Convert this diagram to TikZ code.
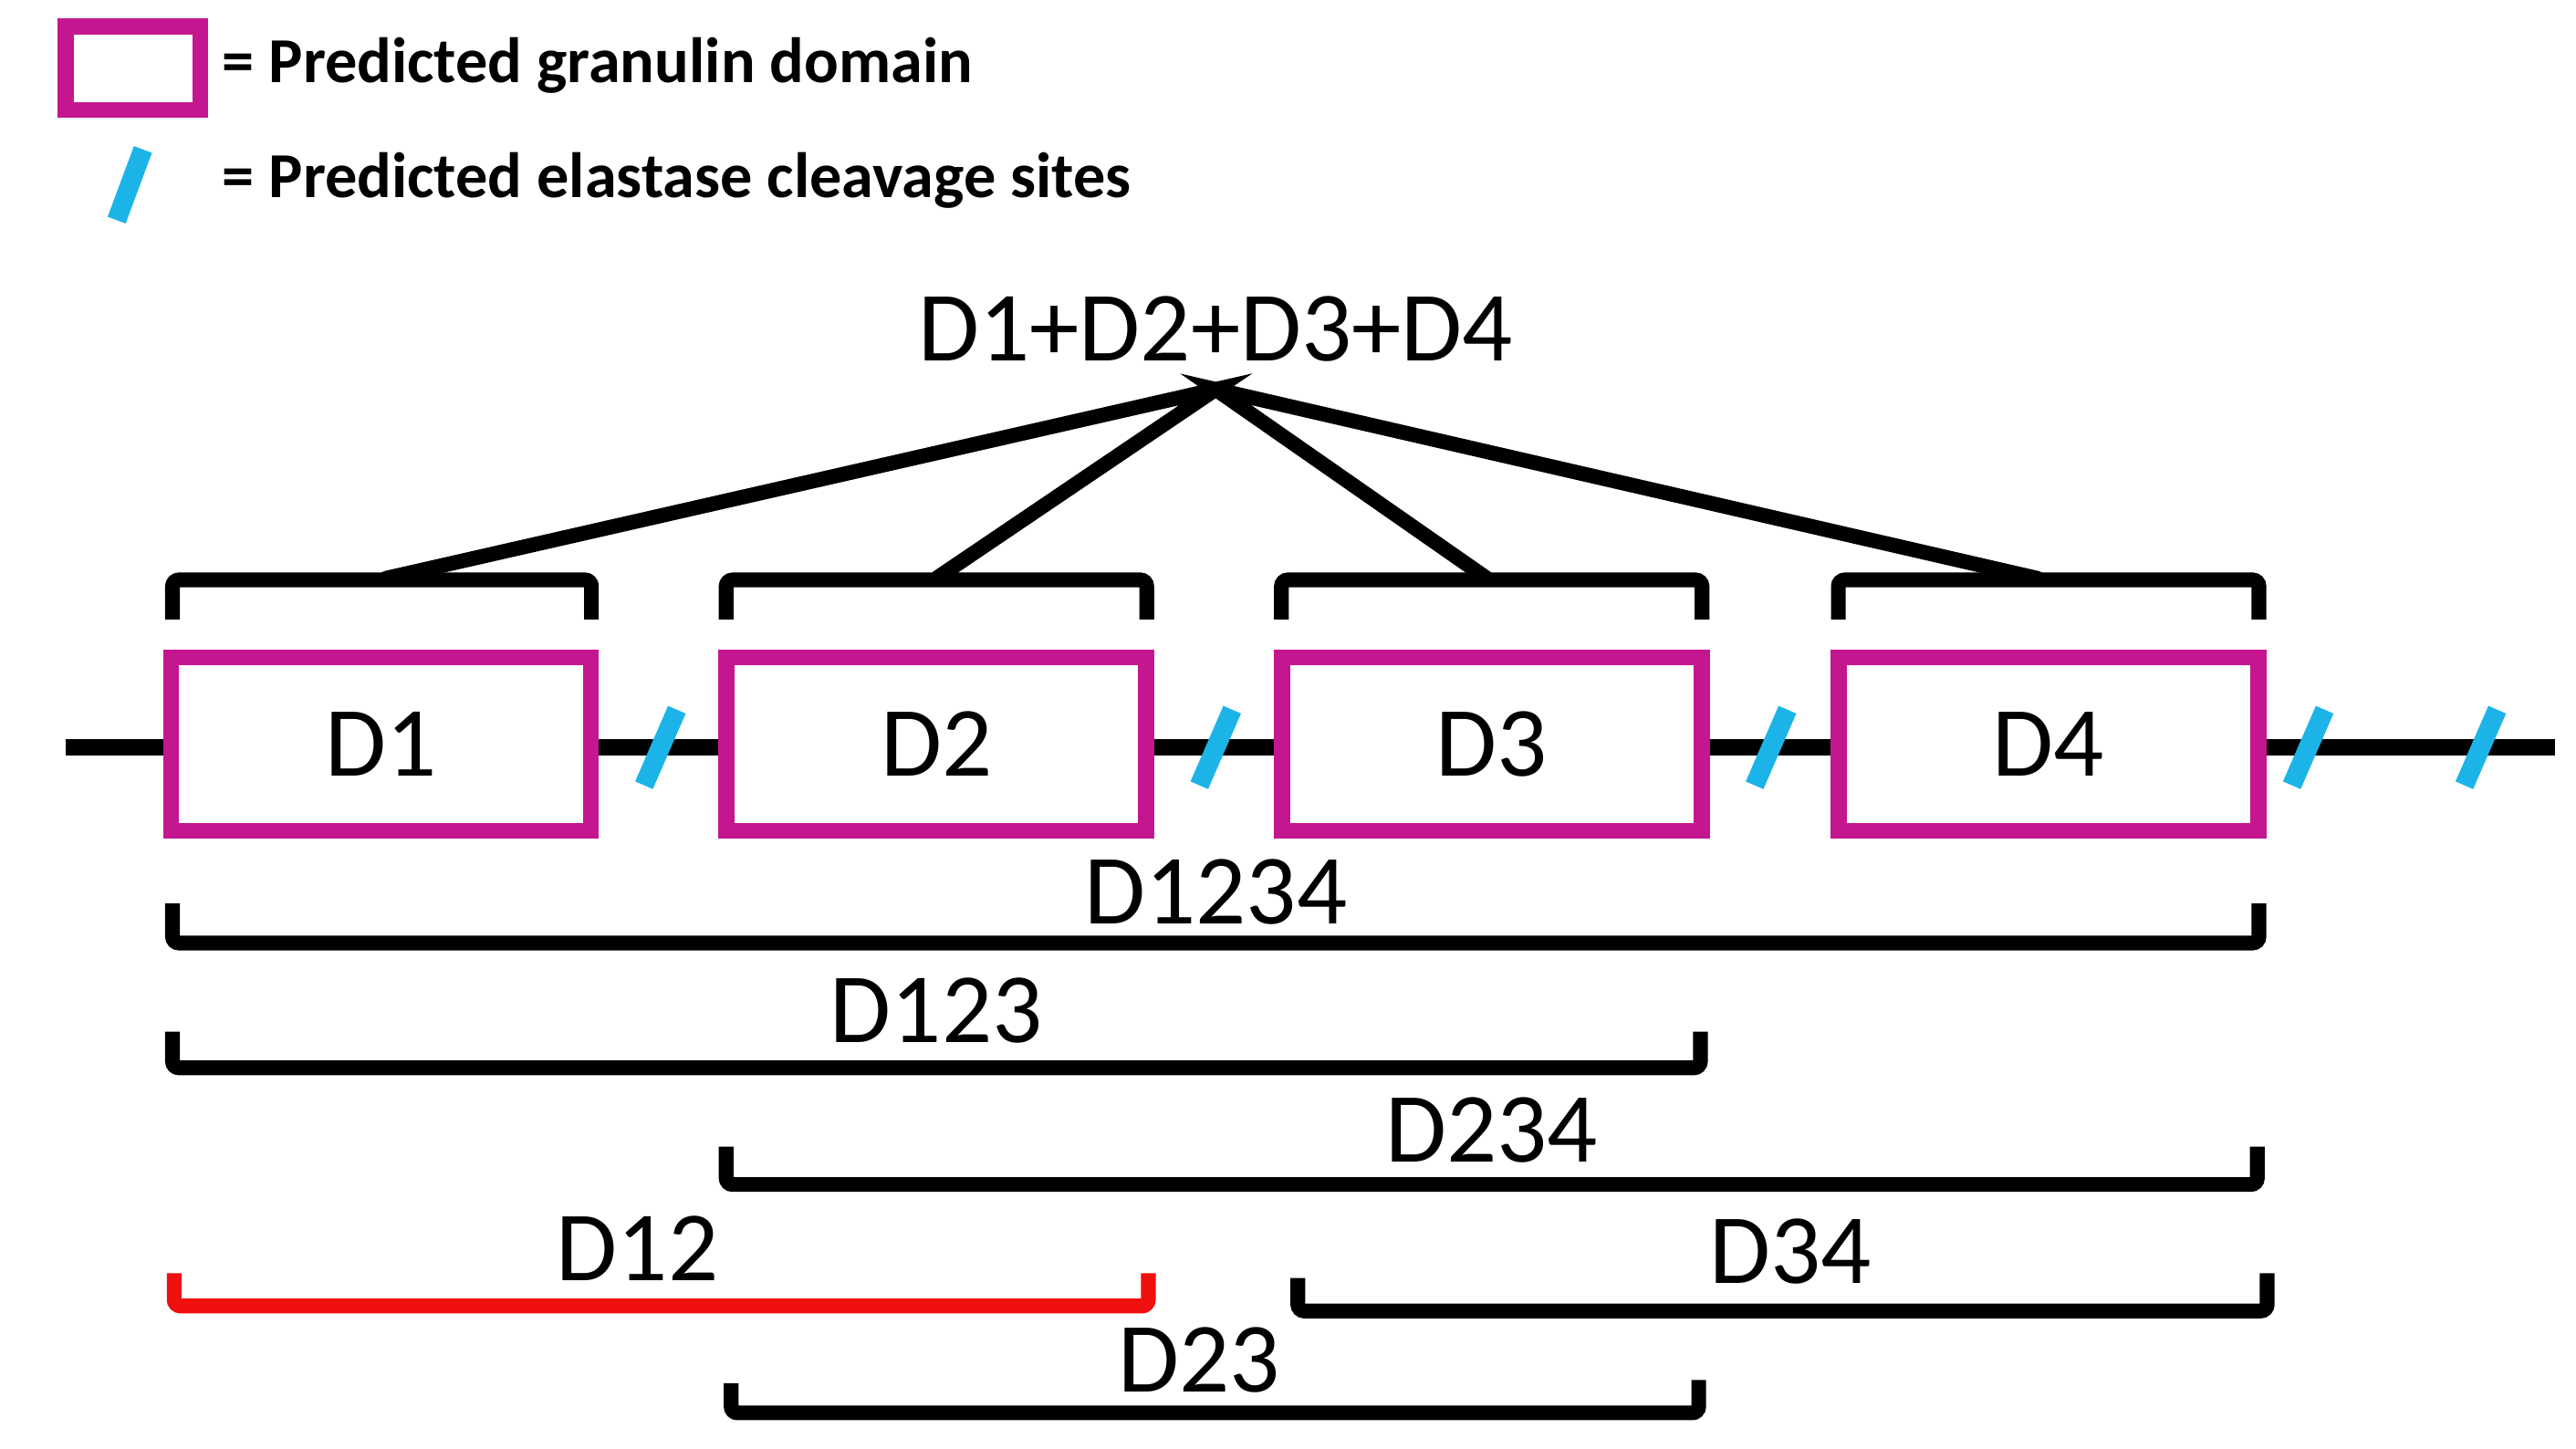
\documentclass[tikz,border=0pt]{standalone}
\usepackage{fontspec}
\setmainfont{Carlito}
\definecolor{granulin}{HTML}{C4168E}
\definecolor{elastase}{HTML}{1CB4E8}
\definecolor{dred}{HTML}{F01010}
\tikzset{
  dom/.style={draw=granulin, line width=5pt, minimum width=4.6cm, minimum height=1.9cm, inner sep=0pt, font=\fontsize{31}{31}\selectfont},
  lbl/.style={font=\fontsize{31}{31}\selectfont, inner sep=0pt},
  leg/.style={font=\bfseries\fontsize{20}{20}\selectfont, anchor=west, inner sep=0pt},
  brk/.style={line width=4.6pt, rounded corners=2pt},
  cut/.style={elastase, line width=6pt}
}
\newcommand{\cutat}[1]{\draw[cut] (#1-10,478) -- (#1+10,432);}
\begin{document}
\begin{tikzpicture}[x=0.018cm, y=-0.018cm]
\useasboundingbox (0,0) rectangle (1568,882);
% legend
\draw[granulin, line width=5pt] (40,16) rectangle (122,67);
\node[leg] at (135,40) {= Predicted granulin domain};
\draw[cut] (71,134) -- (87,91);
\node[leg] at (135,110) {= Predicted elastase cleavage sites};
% backbone and domains
\draw[line width=5pt] (40,455) -- (1555,455);
\node[dom, fill=white] (d1) at (232,453) {D1};
\node[dom, fill=white] (d2) at (570,453) {D2};
\node[dom, fill=white] (d3) at (908,453) {D3};
\node[dom, fill=white] (d4) at (1247,453) {D4};
\foreach \x in {402,740,1078,1405,1510} {\cutat{\x}}
% top brackets
\foreach \d/\a/\b in {d1/105/360,d2/442/698,d3/780/1036,d4/1119/1375} {
  \draw[brk] (\a,377) -- (\a,353) -- (\b,353) -- (\b,377);
}
\node[lbl] (full) at (740,200) {D1+D2+D3+D4};
\coordinate (apex) at (740,237);
\draw[line width=4.6pt, line cap=round] (235,352) -- (apex) -- (570,352);
\draw[line width=4.6pt, line cap=round] (905,352) -- (apex) -- (1240,352);
% fragments
\draw[brk] (105,550) -- (105,574) -- (1375,574) -- (1375,550);
\node[lbl] (f1234) at (740,543) {D1234};
\draw[brk] (105,628) -- (105,650) -- (1035,650) -- (1035,628);
\node[lbl] (f123) at (570,615) {D123};
\draw[brk] (442,698) -- (442,721) -- (1374,721) -- (1374,698);
\node[lbl] (f234) at (908,688) {D234};
\draw[brk, dred] (106,775) -- (106,795) -- (699,795) -- (699,775);
\node[lbl] (f12) at (388,760) {D12};
\draw[brk] (790,778) -- (790,798) -- (1380,798) -- (1380,775);
\node[lbl] (f34) at (1090,762) {D34};
\draw[brk] (445,842) -- (445,860) -- (1034,860) -- (1034,840);
\node[lbl] (f23) at (730,828) {D23};
\end{tikzpicture}
\end{document}
